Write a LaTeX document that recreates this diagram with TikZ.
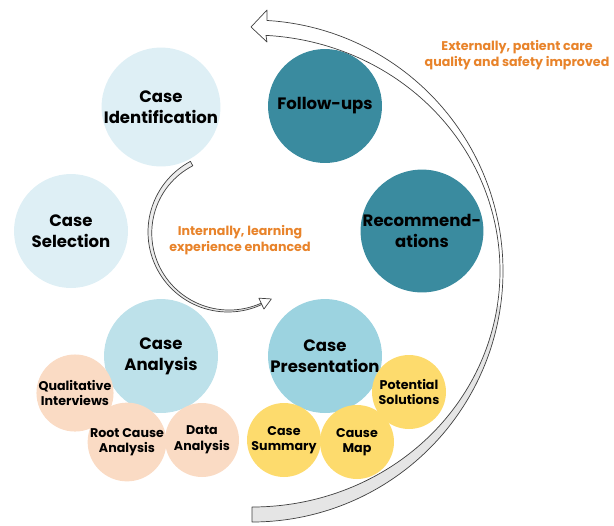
\documentclass[tikz,border=0pt]{standalone}
\usepackage{fontspec}
\setmainfont{Poppins}

\definecolor{paleblue}{HTML}{DEEFF5}
\definecolor{lightblue}{HTML}{BDE1EA}
\definecolor{midblue}{HTML}{9CD3E0}
\definecolor{teal}{HTML}{3A8B9F}
\definecolor{peach}{HTML}{FADBC4}
\definecolor{sun}{HTML}{FDDB6D}
\definecolor{notetext}{HTML}{E8832A}

\begin{document}
\begin{tikzpicture}[x=0.02cm, y=-0.02cm,
    stage/.style={circle, minimum size=2.28cm, inner sep=0pt, align=center,
      font=\fontsize{9.4}{12}\selectfont\bfseries},
    task/.style={circle, minimum size=1.48cm, inner sep=0pt, align=center,
      font=\fontsize{7.2}{8.9}\selectfont\bfseries},
    note/.style={align=center, text=notetext, font=\fontsize{7.2}{8.9}\selectfont\bfseries},
    ribbon/.style={draw=black!75, line width=0.4pt, line join=round}]
  \useasboundingbox (0,0) rectangle (614,525);

  % main stages
  \node[stage, fill=paleblue] (ident) at (161,107) {Case\\Identification};
  \node[stage, fill=paleblue] (select) at (71,231) {Case\\Selection};
  \node[stage, fill=lightblue] (analysis) at (161,356) {Case\\Analysis};
  \node[stage, fill=midblue] (present) at (325,356) {Case\\Presentation};
  \node[stage, fill=teal] (recom) at (422,231) {Recommend-\\ations};
  \node[stage, fill=teal] (follow) at (325,106) {Follow-ups};

  % analysis parts
  \node[task, fill=peach] (interviews) at (75,393) {Qualitative\\Interviews};
  \node[task, fill=peach] (rootcause) at (127,442) {Root Cause\\Analysis};
  \node[task, fill=peach] (data) at (202,440) {Data\\Analysis};

  % presentation parts
  \node[task, fill=sun] (summary) at (284,440) {Case\\Summary};
  \node[task, fill=sun] (causemap) at (357,442) {Cause\\Map};
  \node[task, fill=sun] (solutions) at (409,392) {Potential\\Solutions};

  % outer loop, grey underside at the bottom
  \fill[gray!20] plot[variable=\t, domain=90:8, samples=40, smooth]
      ({252+251*cos(\t)},{271+251*sin(\t)})
    -- plot[variable=\t, domain=8:90, samples=40, smooth]
      ({252+(248-12*sin(\t)*sin(\t))*cos(\t)},{271+(248-12*sin(\t)*sin(\t))*sin(\t)})
    -- cycle;
  \draw[ribbon] plot[variable=\t, domain=90:-86.6, samples=90, smooth]
      ({252+251*cos(\t)},{271+251*sin(\t)})
    -- (267,10) -- (251,27) -- (267,42)
    -- plot[variable=\t, domain=-86.6:90, samples=90, smooth]
      ({252+(248-12*sin(\t)*sin(\t))*cos(\t)},{271+(248-12*sin(\t)*sin(\t))*sin(\t)})
    -- cycle;

  % inner loop
  \draw[ribbon, fill=gray!15] plot[variable=\t, domain=242:65, samples=60, smooth]
      ({228+80*cos(\t)},{232+80*sin(\t)})
    -- plot[variable=\t, domain=65:242, samples=60, smooth]
      ({228+(78.5-3.5*(\t-65)/177)*cos(\t)},{232+(78.5-3.5*(\t-65)/177)*sin(\t)})
    -- cycle;
  \filldraw[ribbon, fill=white] ({228+85*cos(65)},{232+85*sin(65)})
    -- ({228+79*cos(65)+11*sin(65)},{232+79*sin(65)-11*cos(65)})
    -- ({228+73*cos(65)},{232+73*sin(65)}) -- cycle;

  % notes
  \node[note] (inside) at (240,240) {Internally, learning\\experience enhanced};
  \node[note] (outside) at (517,55) {Externally, patient care\\quality and safety improved};
\end{tikzpicture}
\end{document}
